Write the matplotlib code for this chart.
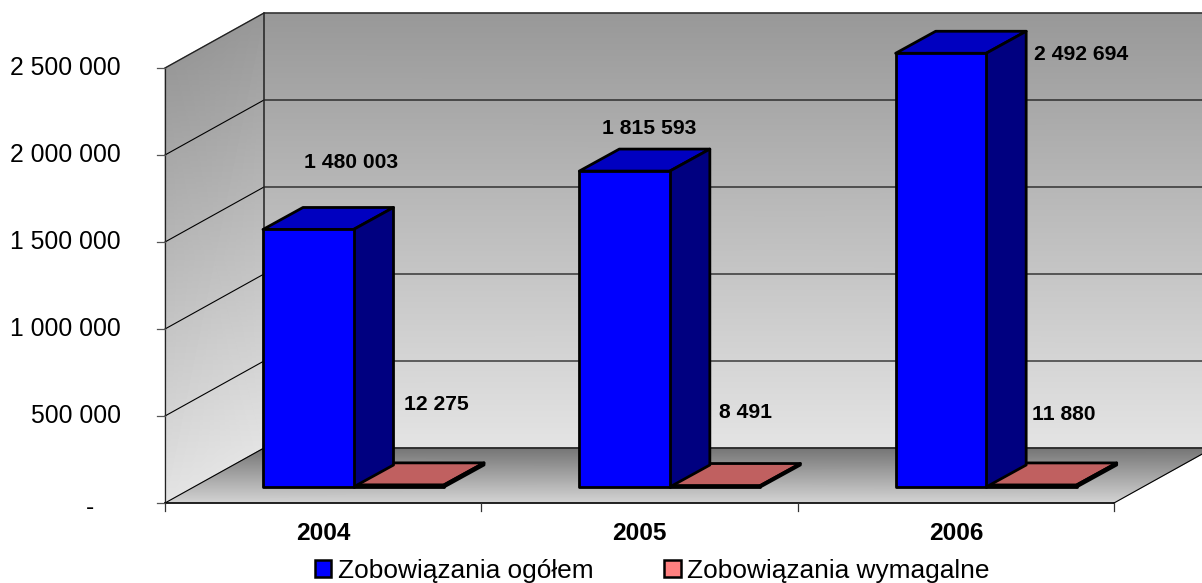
import numpy as np
import matplotlib
matplotlib.use('Agg')
import matplotlib.pyplot as plt
from matplotlib.patches import Polygon, Patch

plt.rcParams['font.family'] = ['Liberation Sans', 'DejaVu Sans']

years = ['2004', '2005', '2006']
ogolem = [1480003, 1815593, 2492694]
wymagalne = [12275, 8491, 11880]
ogolem_labels = ['1 480 003', '1 815 593', '2 492 694']
wymagalne_labels = ['12 275', '8 491', '11 880']
yticks = [0, 500000, 1000000, 1500000, 2000000, 2500000]
ytick_labels = ['-', '500 000', '1 000 000', '1 500 000', '2 000 000', '2 500 000']

# pixel scale of the front plane
px_x = 316.33
px_y = 87.0 / 500000
# oblique depth of the floor / of one bar, in data units
wall_dx, wall_dy = 99 / px_x, 55 / px_y
bar_dx, bar_dy = 40 / px_x, 22 / px_y
gap_dx, gap_dy = 28 / px_x, 16 / px_y
bar_w = 90.5 / px_x
bar_start = 70 / px_x
ymax = 2500000

fig = plt.figure(figsize=(12.02, 5.83), dpi=100)
ax = fig.add_axes([0, 0, 1, 1])
ax.set_xlim(-165 / px_x, (1202 - 165) / px_x)
ax.set_ylim(-80 / px_y, 503 / px_y)
ax.axis('off')

grey = matplotlib.colors.LinearSegmentedColormap.from_list('g', ['#e4e4e4', '#989898'])
floor_grey = matplotlib.colors.LinearSegmentedColormap.from_list('f', ['#d4d4d4', '#747474'])


def shaded(xs, ys, cmap):
    # two-row mesh, colour runs from the bottom row to the top row
    c = np.array([[0, 0], [1, 1]])
    ax.pcolormesh(np.array(xs), np.array(ys), c, cmap=cmap, shading='gouraud',
                  vmin=0, vmax=1, zorder=1)


top = ymax
xend = 3 + 2 * wall_dx

# back wall
shaded([[wall_dx, xend], [wall_dx, xend]], [[wall_dy, wall_dy], [wall_dy + top, wall_dy + top]], grey)
# left wall
shaded([[0, wall_dx], [0, wall_dx]], [[0, wall_dy], [top, wall_dy + top]], grey)
# floor
shaded([[0, 3], [wall_dx, 3 + wall_dx]], [[0, 0], [wall_dy, wall_dy]], floor_grey)

# grid lines on walls
for v in yticks[1:-1]:
    ax.plot([0, wall_dx, xend], [v, v + wall_dy, v + wall_dy], color='black', lw=0.8, zorder=2)
ax.plot([wall_dx, xend], [wall_dy, wall_dy], color='#222222', lw=1.2, zorder=2)
ax.plot([0, wall_dx, xend], [top, top + wall_dy, top + wall_dy], color='#222222', lw=1, zorder=2)
ax.plot([wall_dx, wall_dx], [wall_dy, top + wall_dy], color='#222222', lw=1.1, zorder=2)
ax.plot([0, wall_dx], [0, wall_dy], color='black', lw=0.8, zorder=2)
ax.plot([3, 3 + wall_dx], [0, wall_dy], color='black', lw=0.8, zorder=2)

# axes and ticks
ax.plot([0, 0], [0, top], color='#222222', lw=0.9, zorder=3)
ax.plot([0, 3], [0, 0], color='black', lw=1.2, zorder=3)
for v, lab in zip(yticks, ytick_labels):
    ax.plot([-8 / px_x, 0], [v, v], color='#555555', lw=0.9, zorder=3)
    if v > 0:
        ax.text(-44 / px_x, v, lab, ha='right', va='center', fontsize=17.8, color='black')
    else:
        ax.text(-71 / px_x, -5 / px_y, lab, ha='right', va='center', fontsize=17.8, color='black')
for i in range(4):
    ax.plot([i, i], [0, -8 / px_y], color='#333333', lw=0.9, zorder=3)


def box(x0, value, color_front, color_side, color_top, z):
    x1 = x0 + bar_w
    y0 = gap_dy
    y1 = gap_dy + value
    kw = dict(edgecolor='black', lw=2, joinstyle='round', zorder=z)
    ax.add_patch(Polygon([(x0, y1), (x1, y1), (x1 + bar_dx, y1 + bar_dy), (x0 + bar_dx, y1 + bar_dy)],
                         facecolor=color_top, **kw))
    ax.add_patch(Polygon([(x1, y0), (x1 + bar_dx, y0 + bar_dy), (x1 + bar_dx, y1 + bar_dy), (x1, y1)],
                         facecolor=color_side, **kw))
    ax.add_patch(Polygon([(x0, y0), (x1, y0), (x1, y1), (x0, y1)], facecolor=color_front, **kw))


for i in range(3):
    x0 = i + gap_dx + bar_start
    box(x0 + bar_w, wymagalne[i], '#c06060', '#804040', '#c06060', 4)
    box(x0, ogolem[i], '#0000ff', '#000080', '#0000c0', 5)

# data labels were hand placed in the original chart
ogolem_pos = [(351, 162), (649, 129), (1081, 54)]
wymagalne_pos = [(436, 404), (746, 413), (1064, 414)]
for lab, (px, py) in zip(ogolem_labels + wymagalne_labels, ogolem_pos + wymagalne_pos):
    ax.text((px - 165) / px_x, (503 - py) / px_y, lab, ha='center', va='center',
            fontsize=15.2, fontweight='bold', color='black', zorder=6)

for i, yr in enumerate(years):
    ax.text(i + 0.5, -30 / px_y, yr, ha='center', va='center', fontsize=17.6,
            fontweight='bold', color='black')

handles = [Patch(facecolor='#0000ff', edgecolor='black', lw=1.8, label='Zobowiązania ogółem'),
           Patch(facecolor='#ff8080', edgecolor='black', lw=1.8, label='Zobowiązania wymagalne')]
ax.legend(handles=handles, ncol=2, frameon=False, fontsize=18.9, loc='lower left',
          bbox_to_anchor=(315 / 1202, 0 / 583), borderpad=0, borderaxespad=0,
          handlelength=0.62, handleheight=0.62, handletextpad=0.25, columnspacing=2.7)

fig.savefig('out.png', dpi=100)
